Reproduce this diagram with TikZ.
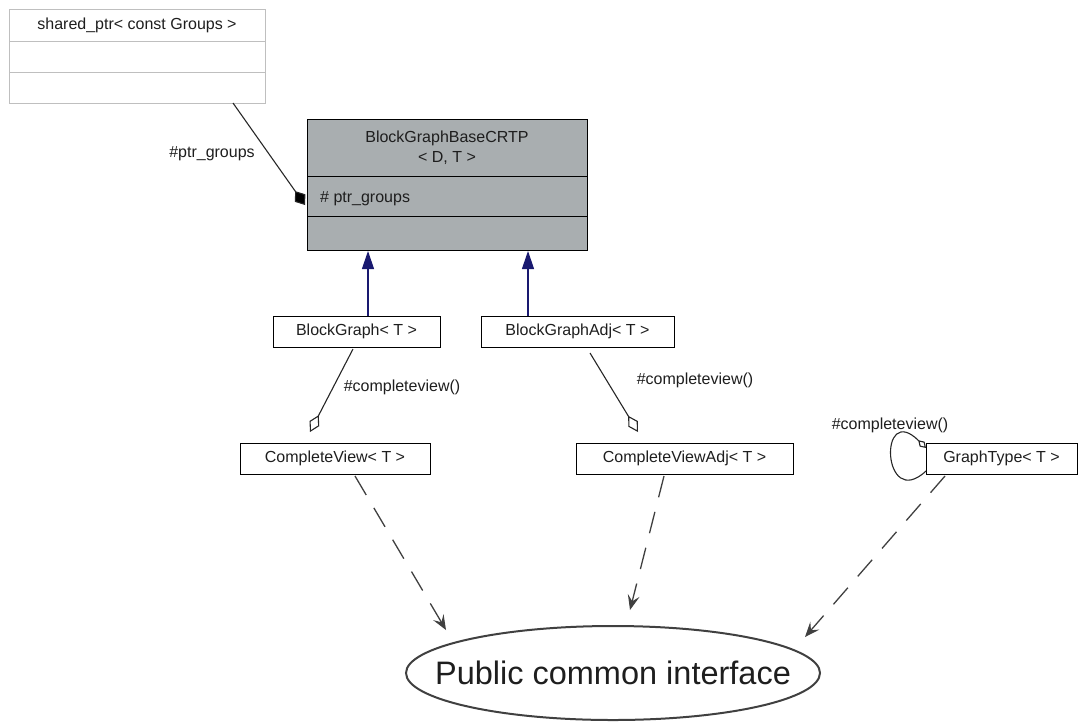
\documentclass[tikz,border=0pt]{standalone}
\usepackage{fontspec}
\setmainfont{Liberation Sans}
\usetikzlibrary{arrows.meta,shapes.geometric}
\definecolor{crtpgray}{RGB}{169,174,176}
\definecolor{lightborder}{RGB}{191,191,191}
\definecolor{inhblue}{RGB}{25,25,112}
\definecolor{depgray}{RGB}{64,64,64}
\definecolor{txtcol}{RGB}{30,30,30}
\begin{document}
\begin{tikzpicture}[x=1pt,y=-1pt,
  txt/.style={font=\fontsize{16}{20}\selectfont,text=txtcol},
  box/.style={draw=black,line width=1pt,rectangle,inner sep=0pt,txt,minimum height=31pt},
  lbox/.style={draw=lightborder,line width=1pt,rectangle,inner sep=0pt,txt,minimum width=256pt},
  cbox/.style={draw=black,fill=crtpgray,line width=1pt,rectangle,inner sep=0pt,txt,minimum width=280pt},
  inh/.style={draw=inhblue,line width=1.2pt,-{Triangle[length=18pt,width=12pt]},fill=inhblue},
  agg/.style={draw=black!85,line width=1.1pt},
  dep/.style={draw=depgray,line width=1.3pt,dash pattern=on 22pt off 15pt,-{Stealth[length=15pt,width=12pt,inset=6pt]}},
  lab/.style={txt,inner sep=0pt}]
\useasboundingbox (0,0) rectangle (1078,724);

% shared_ptr box
\node[lbox,minimum height=32pt] (sp1) at (137,25) {shared\_ptr< const Groups >};
\node[lbox,minimum height=31pt] (sp2) at (137,56.5) {};
\node[lbox,minimum height=31pt] (sp3) at (137,87.5) {};

% CRTP box
\node[cbox,minimum height=57pt,align=center] (ct) at (447,147.5) {BlockGraphBaseCRTP\\< D, T >};
\node[cbox,minimum height=40pt] (ca) at (447,196) {};
\node[txt,inner sep=0pt,anchor=base west] (cat) at (320,202) {\# ptr\_groups};
\node[cbox,minimum height=34pt] (co) at (447,233) {};

% classes
\node[box,minimum width=167pt] (bg) at (356.5,331.5) {BlockGraph< T >};
\node[box,minimum width=193pt] (bga) at (577.5,331.5) {BlockGraphAdj< T >};
\node[box,minimum width=190pt] (cv) at (335,458.5) {CompleteView< T >};
\node[box,minimum width=217pt] (cva) at (684.5,458.5) {CompleteViewAdj< T >};
\node[box,minimum width=151pt] (gt) at (1001.5,458.5) {GraphType< T >};

% interface ellipse
\node[inner sep=0pt,font=\fontsize{32.5}{36}\selectfont,text=txtcol] (pci) at (613,673) {Public common interface};
\draw[depgray,line width=2pt] (pci.center) ellipse [x radius=207pt,y radius=47pt];

% aggregation shared_ptr -> CRTP
\coordinate (p1) at (233,103);
\coordinate (p2) at (305,205);
\draw[agg,-{Diamond[length=17pt,width=13pt,fill=black]}] (p1) -- (p2);
\node[lab] (l1) at (212,154) {\#ptr\_groups};

% inheritance
\coordinate (i1s) at (368,316);
\coordinate (i1e) at (368,251);
\coordinate (i2s) at (528,316);
\coordinate (i2e) at (528,251);
\draw[inh] (i1s) -- (i1e);
\draw[inh] (i2s) -- (i2e);

% aggregation BlockGraph -> CompleteView
\coordinate (b1) at (353,349);
\coordinate (b2) at (310,432);
\draw[agg,-{Diamond[open,length=19pt,width=11pt,fill=white]}] (b1) -- (b2);
\node[lab] (l2) at (402,387) {\#completeview()};

\coordinate (b3) at (590,353);
\coordinate (b4) at (638,432);
\draw[agg,-{Diamond[open,length=19pt,width=11pt,fill=white]}] (b3) -- (b4);
\node[lab] (l3) at (695,380) {\#completeview()};

% self loop on GraphType
\coordinate (g1) at (926,448);
\coordinate (g2) at (926,471);
\draw[agg,{Diamond[open,length=11pt,width=7pt,fill=white]}-] (g1) .. controls (878,400) and (882,512) .. (g2);
\node[lab] (l4) at (890,425) {\#completeview()};

% dependencies
\coordinate (d1s) at (355,476);
\coordinate (d1e) at (446,630);
\coordinate (d2s) at (664,476);
\coordinate (d2e) at (630,610);
\coordinate (d3s) at (945,476);
\coordinate (d3e) at (805,637);
\draw[dep] (d1s) -- (d1e);
\draw[dep] (d2s) -- (d2e);
\draw[dep] (d3s) -- (d3e);
\end{tikzpicture}
\end{document}
